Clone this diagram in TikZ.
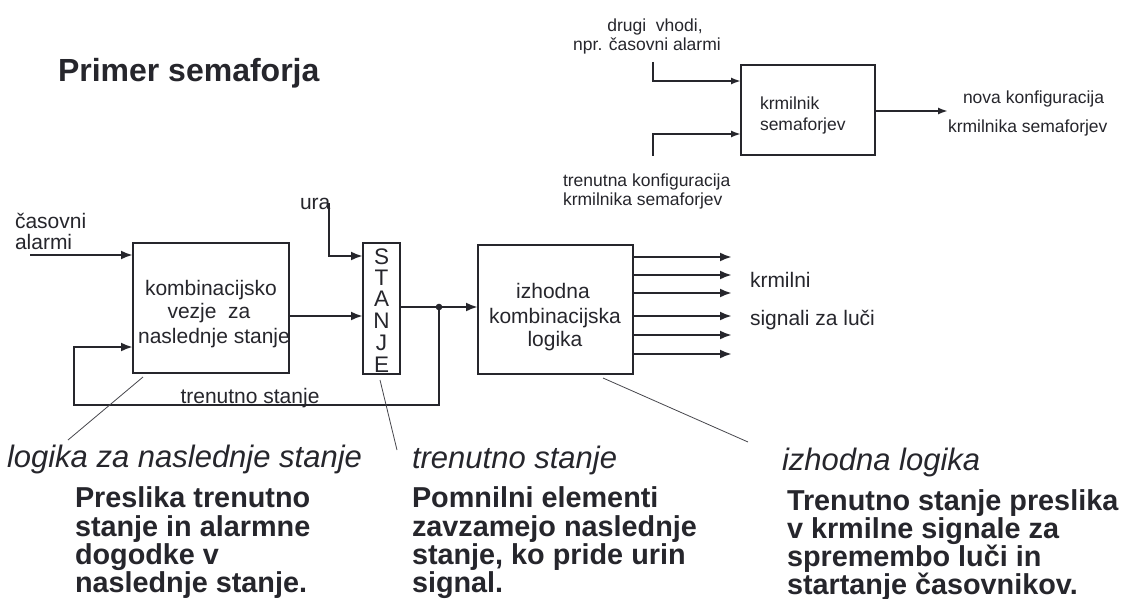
\documentclass[tikz,border=0pt]{standalone}
\usepackage{fontspec}
\setmainfont{Liberation Sans}
\usetikzlibrary{arrows.meta}
\definecolor{ink}{RGB}{38,38,44}
\definecolor{noteink}{RGB}{70,70,76}
\begin{document}
\begin{tikzpicture}[x=1pt,y=-1pt,
  txt/.style={inner sep=0pt, outer sep=0pt, text=ink},
  fmain/.style={font=\fontsize{21}{24}\selectfont},
  fletter/.style={font=\fontsize{22.5}{24}\selectfont},
  fsmall/.style={font=\fontsize{17.5}{20}\selectfont},
  fhead/.style={font=\fontsize{31}{34}\selectfont\itshape},
  fbody/.style={font=\fontsize{28.8}{29}\selectfont\bfseries},
  box/.style={draw=ink, line width=2.5pt, inner sep=0pt, outer sep=0pt},
  sbox/.style={draw=ink, line width=1.8pt, inner sep=0pt, outer sep=0pt},
  arr/.style={draw=ink, line width=2.5pt, -{Latex[length=12pt,width=9pt]}},
  sarr/.style={draw=ink, line width=1.8pt, -{Latex[length=10pt,width=7pt]}},
  note/.style={draw=noteink, line width=0.8pt}
]
\useasboundingbox (0,0) rectangle (1135,599);
\fill[white] (0,0) rectangle (1135,599);

% title
\node[txt, anchor=base west, font=\fontsize{32}{38}\selectfont\bfseries] (title) at (58,82) {Primer semaforja};

% ---------- top right block ----------
\node[sbox, minimum width=134pt, minimum height=90pt] (krm) at (808,110) {};
\node[txt, fsmall, anchor=base west] (krm1) at (760,110) {krmilnik};
\node[txt, fsmall, anchor=base west] (krm2) at (760,131) {semaforjev};
\node[txt, fsmall, anchor=base] (dv1) at (655,32) {drugi\ \ vhodi,};
\node[txt, fsmall, anchor=base] (dv2) at (647,51) {npr. časovni alarmi};
\node[txt, fsmall, anchor=base west] (tk1) at (563,186) {trenutna konfiguracija};
\node[txt, fsmall, anchor=base west] (tk2) at (563,205) {krmilnika semaforjev};
\node[txt, fsmall, anchor=base west] (nk1) at (963,104) {nova konfiguracija};
\node[txt, fsmall, anchor=base west] (nk2) at (948,133) {krmilnika semaforjev};
\coordinate (in1s) at (653,62);
\coordinate (in2s) at (653,156);
\coordinate (out1e) at (948,111);
\draw[sarr] (in1s) |- ([yshift=29pt]krm.west);
\draw[sarr] (in2s) |- ([yshift=-24pt]krm.west);
\draw[sarr] (krm.east |- out1e) -- (out1e);

% ---------- main diagram ----------
\node[box, minimum width=156pt, minimum height=130pt] (comb) at (211,308) {};
\node[box, minimum width=37pt, minimum height=131pt] (stanje) at (381.5,308.5) {};
\node[box, minimum width=155pt, minimum height=129pt] (izh) at (555.5,309.5) {};

% texts in boxes
\node[txt, fmain, anchor=base] (c1) at (211,295) {kombinacijsko};
\node[txt, fmain, anchor=base] (c2) at (209,318) {vezje\ \ za};
\node[txt, fmain, anchor=base] (c3) at (214,343) {naslednje stanje};
\node[txt, fmain, anchor=base] (i1) at (553,298) {izhodna};
\node[txt, fmain, anchor=base] (i2) at (555,323) {kombinacijska};
\node[txt, fmain, anchor=base] (i3) at (555,346) {logika};
\foreach \l/\yy [count=\k] in {S/264,T/285,A/306,N/328,J/350,E/372}
  \node[txt, fletter, anchor=base] (st\k) at (381.5,\yy) {\l};

% labels
\node[txt, fmain, anchor=base west] (cas1) at (15,228) {časovni};
\node[txt, fmain, anchor=base west] (cas2) at (15,249) {alarmi};
\node[txt, fmain, anchor=base west] (ura) at (300,209) {ura};
\node[txt, fmain, anchor=base] (tren) at (250,403) {trenutno stanje};
\node[txt, fmain, anchor=base west] (krl) at (750,287) {krmilni};
\node[txt, fmain, anchor=base west] (sig) at (750,325) {signali za luči};

% connectors
\coordinate (casS) at (30,255);
\draw[arr] (casS) -- (comb.west |- casS);
\coordinate (uraS) at (329,203);
\draw[arr] (uraS) |- ([yshift=52.5pt]stanje.west);
\coordinate (y316) at (0,316);
\draw[arr] (comb.east |- y316) -- (stanje.west |- y316);
\coordinate (jn) at (439,307);
\draw[arr] (stanje.east |- jn) -- (izh.west |- jn);
\coordinate (fbL) at (74,405);
\coordinate (y347) at (0,347);
\draw[arr] (jn) |- (fbL) |- (comb.west |- y347);
\fill[ink] (jn) circle (3.3pt);
\foreach \yy [count=\k] in {257,275,293,316,335,354}{
  \coordinate (oe\k) at (732,\yy);
  \draw[arr] (izh.east |- oe\k) -- (oe\k);
}

% annotation lines
\coordinate (nA1) at (143,377); \coordinate (nA2) at (68,440);
\coordinate (nB1) at (380,380); \coordinate (nB2) at (397,450);
\coordinate (nC1) at (603,378); \coordinate (nC2) at (748,442);
\draw[note] (nA1) -- (nA2);
\draw[note] (nB1) -- (nB2);
\draw[note] (nC1) -- (nC2);

% bottom explanations
\node[txt, fhead, anchor=base west] (h1) at (7,467) {logika za naslednje stanje};
\node[txt, fhead, anchor=base west] (h2) at (412,468) {trenutno stanje};
\node[txt, fhead, anchor=base west] (h3) at (782,470) {izhodna logika};

\node[txt, fbody, anchor=base west] (a1) at (75,507) {Preslika trenutno};
\node[txt, fbody, anchor=base west] (a2) at (75,536) {stanje in alarmne};
\node[txt, fbody, anchor=base west] (a3) at (75,564) {dogodke v};
\node[txt, fbody, anchor=base west] (a4) at (75,592) {naslednje stanje.};

\node[txt, fbody, anchor=base west] (b1) at (412,507) {Pomnilni elementi};
\node[txt, fbody, anchor=base west] (b2) at (412,536) {zavzamejo naslednje};
\node[txt, fbody, anchor=base west] (b3) at (412,564) {stanje, ko pride urin};
\node[txt, fbody, anchor=base west] (b4) at (412,592) {signal.};

\node[txt, fbody, anchor=base west] (d1) at (787,510) {Trenutno stanje preslika};
\node[txt, fbody, anchor=base west] (d2) at (787,538) {v krmilne signale za};
\node[txt, fbody, anchor=base west] (d3) at (787,566) {spremembo luči in};
\node[txt, fbody, anchor=base west] (d4) at (787,594) {startanje časovnikov.};
\end{tikzpicture}
\end{document}
